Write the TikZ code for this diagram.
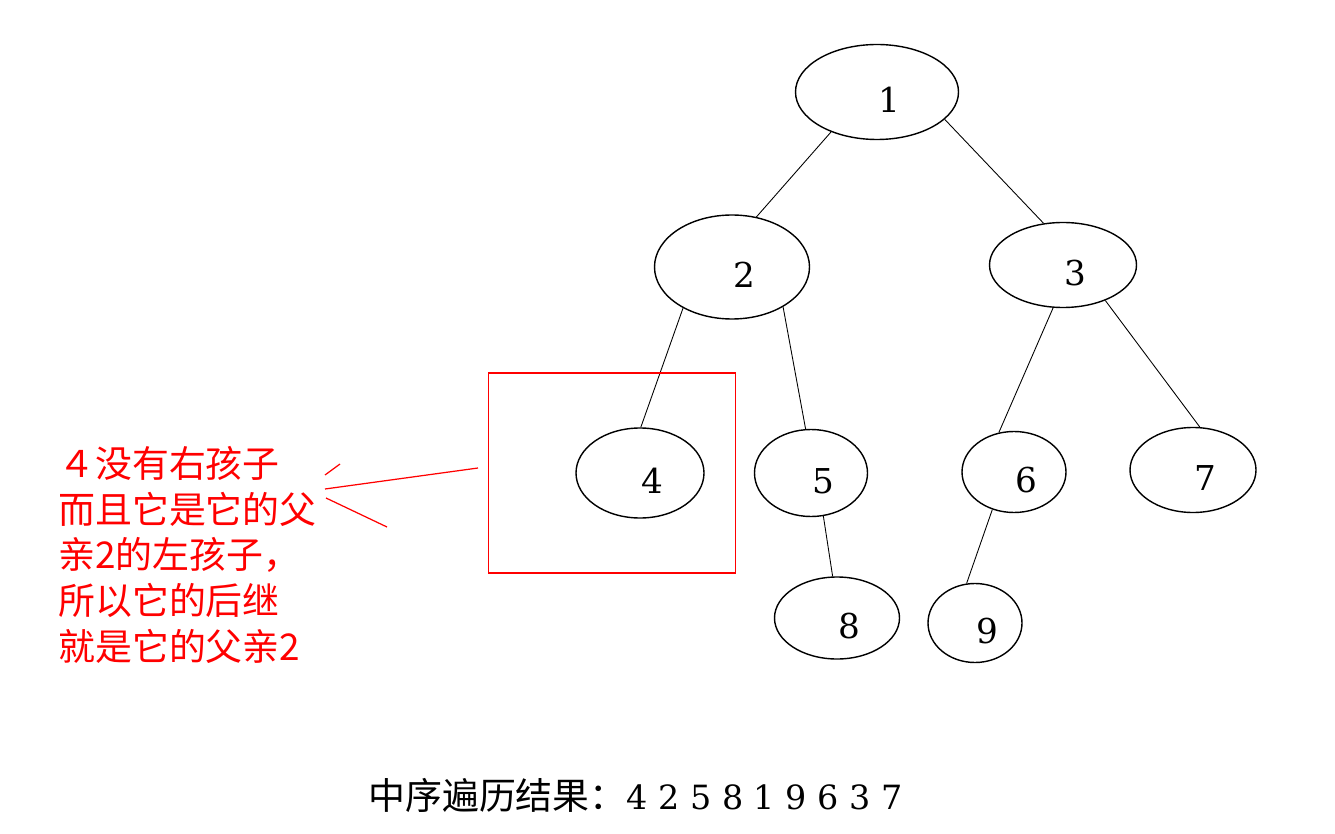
\documentclass[tikz,border=0pt]{standalone}
\usepackage{fontspec}
\newfontfamily\cjk{Noto Sans CJK SC}
\newfontfamily\num{DejaVu Serif}
\usetikzlibrary{shapes.geometric}

\begin{document}
\begin{tikzpicture}[x=0.02cm,y=-0.02cm,
        nd/.style={draw,ellipse,inner sep=0pt,line width=0.8pt,
          label={[shift={(12,8)},font=\num\fontsize{19.5}{22}\selectfont]center:#1}},
        sz/.style 2 args={minimum width=#1*0.02cm,minimum height=#2*0.02cm},
        e/.style={line width=0.5pt},
        note/.style={red,line width=0.7pt}]
        \useasboundingbox (0,0) rectangle (1335,834);
        % tree
        \node[nd=1,sz={163}{95}] (n1) at (877,92) {};
        \node[nd=2,sz={155}{104}] (n2) at (732,267) {};
        \node[nd=3,sz={147}{85}] (n3) at (1063,265) {};
        \node[nd=4,sz={128}{90}] (n4) at (640,473) {};
        \node[nd=5,sz={113}{87}] (n5) at (811,473) {};
        \node[nd=6,sz={104}{81}] (n6) at (1014,472) {};
        \node[nd=7,sz={126}{85}] (n7) at (1193,470) {};
        \node[nd=8,sz={125}{82}] (n8) at (837,618) {};
        \node[nd=9,sz={94}{79}] (n9) at (975,623) {};
        \draw[e] (n1.221)--(n2.64); \draw[e] (n1.338)--(n3.115);
        \draw[e] (n2.220)--(n4.89); \draw[e] (n2.322)--(n5.97);
        \draw[e] (n3.257)--(n6.111); \draw[e] (n3.320)--(n7.81);
        \draw[e] (n5.286)--(n8.96); \draw[e] (n6.240)--(n9.102);
        % note on node 4
        \node[note,draw,minimum width=247*0.02cm,minimum height=200*0.02cm] (box) at (612,473) {};
        \node[red,anchor=north west,align=left,inner sep=0pt,
          font=\cjk\fontsize{21}{26}\selectfont] (txt) at (58,446)
          {４没有右孩子\\而且它是它的父\\亲2的左孩子，\\所以它的后继\\就是它的父亲2};
        \coordinate (from) at (478,468);
        \coordinate (tip) at (325,489);
        \coordinate (up) at (340,464);
        \coordinate (low) at (387,527);
        \draw[note] (from)--(tip);
        \draw[note] (325,475)--(up);
        \draw[note] (326,498)--(low);
        % result
        \node[anchor=west,inner sep=0pt] (res) at (368,795)
          {{\cjk\fontsize{21}{26}\selectfont 中序遍历结果：}{\num\fontsize{19}{22}\selectfont 4 2 5 8 1 9 6 3 7}};
      \end{tikzpicture}
\end{document}
